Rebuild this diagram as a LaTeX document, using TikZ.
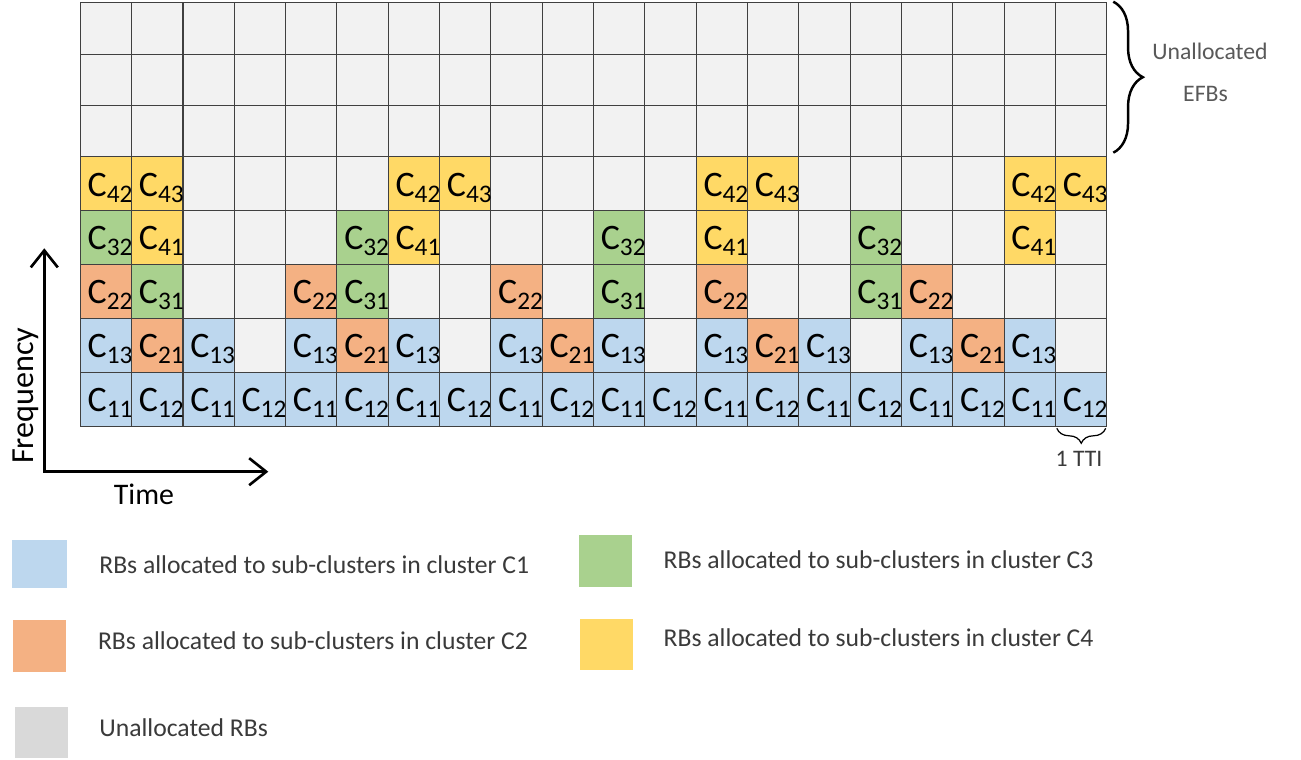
\documentclass[tikz,border=0pt]{standalone}
\usepackage{fontspec}
\setmainfont{Carlito}
\usepackage{xcolor}
\usetikzlibrary{arrows.meta, decorations.pathreplacing, calc}

\definecolor{rbblue}{HTML}{BDD7EE}
\definecolor{rborange}{HTML}{F4B183}
\definecolor{rbgreen}{HTML}{A9D18E}
\definecolor{rbyellow}{HTML}{FFD966}
\definecolor{rbfree}{HTML}{F2F2F2}
\definecolor{rbgray}{HTML}{D9D9D9}
\definecolor{gridline}{HTML}{404040}
\definecolor{notegray}{HTML}{595959}
\definecolor{legtextc}{HTML}{3A3A3A}

% sub-cluster label C_ij
\newcommand{\cid}[1]{C\raisebox{-3.4pt}{\fontsize{14.4}{14.4}\selectfont #1}}
% one allocated RB with its label
\newcommand{\rbcell}[4]{%
  \node[rb, fill=#3] (al-#1-#2) at (rb-#1-#2.center) {};
  \node[lbl] (lb-#1-#2) at ([shift={(7,14.5)}]al-#1-#2.south west) {\cid{#4}};}

\begin{document}
\begin{tikzpicture}[x=0.02cm, y=0.02cm,
    rb/.style={draw=gridline, line width=0.5pt, fill=rbfree, minimum width=1.0264cm, minimum height=1.0772cm, inner sep=0pt, outer sep=0pt},
    rbtop/.style={rb, minimum height=1.0266cm},
    lbl/.style={anchor=base west, inner sep=0pt, font=\fontsize{20.4}{20.4}\selectfont},
    axis/.style={line width=1.5pt, {Straight Barb[length=0.34cm, width=0.54cm]}-{Straight Barb[length=0.34cm, width=0.54cm]}},
    note/.style={anchor=base, inner sep=0pt, text=notegray, font=\fontsize{13.5}{13.5}\selectfont},
    legbox/.style={minimum width=1.05cm, minimum height=1.04cm, inner sep=0pt},
    legtext/.style={anchor=base west, inner sep=0pt, text=legtextc, font=\fontsize{14.6}{14.6}\selectfont},
    curly/.style={decorate, decoration={brace, amplitude=#1}}
]
\useasboundingbox (0,0) rectangle (1301,760);

% resource grid
\foreach \c in {0,...,19}{
  \foreach \r in {0,...,4}
    \node[rb] (rb-\c-\r) at ({80.3+51.32*(\c+0.5)}, {334+53.86*(\r+0.5)}) {};
  \foreach \r in {5,6,7}
    \node[rbtop] (rb-\c-\r) at ({80.3+51.32*(\c+0.5)}, {603.3+51.33*(\r-4.5)}) {};
}

% cluster C1 in the two lowest rows, C2 between
\foreach \c in {0,2,...,18}{
  \pgfmathtruncatemacro{\d}{\c+1}
  \rbcell{\c}{0}{rbblue}{11}
  \rbcell{\d}{0}{rbblue}{12}
}
\foreach \c in {0,4,...,16}{
  \pgfmathtruncatemacro{\d}{\c+1}
  \pgfmathtruncatemacro{\e}{\c+2}
  \rbcell{\c}{1}{rbblue}{13}
  \rbcell{\d}{1}{rborange}{21}
  \rbcell{\e}{1}{rbblue}{13}
}
% clusters C2, C3, C4
\foreach \c/\r/\col/\n in {0/2/rborange/22, 1/2/rbgreen/31, 4/2/rborange/22, 5/2/rbgreen/31,
    8/2/rborange/22, 10/2/rbgreen/31, 12/2/rborange/22, 15/2/rbgreen/31, 16/2/rborange/22,
    0/3/rbgreen/32, 1/3/rbyellow/41, 5/3/rbgreen/32, 6/3/rbyellow/41, 10/3/rbgreen/32,
    12/3/rbyellow/41, 15/3/rbgreen/32, 18/3/rbyellow/41,
    0/4/rbyellow/42, 1/4/rbyellow/43, 6/4/rbyellow/42, 7/4/rbyellow/43,
    12/4/rbyellow/42, 13/4/rbyellow/43, 18/4/rbyellow/42, 19/4/rbyellow/43}{
  \rbcell{\c}{\r}{\col}{\n}
}

% axes
\coordinate (orig) at (44.3,288.3);
\coordinate (ftop) at (44.3,511.7);
\coordinate (tend) at (268.3,288.3);
\draw[axis] (ftop) -- (orig) -- (tend);
\node[rotate=90, anchor=base west, inner sep=0pt, font=\fontsize{18.3}{18.3}\selectfont] (freq) at (33.3,295.7) {Frequency};
\node[anchor=base, inner sep=0pt, font=\fontsize{17}{17}\selectfont] (time) at (144,255) {Time};

% braces
\draw[curly=0.59cm, line width=1.4pt] ([shift={(6.6,1)}]rb-19-7.north east) -- ([shift={(6.6,4)}]rb-19-5.south east);
\node[note] (unal) at (1210,700) {Unallocated};
\node[note] (efbs) at (1205.5,658.3) {EFBs};
\draw[curly=0.3cm, line width=0.7pt] ([shift={(-1,-2.3)}]rb-19-0.south east) -- ([shift={(1.4,-2.3)}]rb-19-0.south west);
\node[note, text=legtextc] (tti) at (1079,293.3) {1 TTI};

% legend
\node[legbox, fill=rbblue, minimum width=1.09cm, minimum height=0.97cm] (lg1) at (39.5,195.8) {};
\node[legtext] (lt1) at (99,186.7) {RBs allocated to sub-clusters in cluster C1};
\node[legbox, fill=rborange] (lg2) at (39.5,114.1) {};
\node[legtext] (lt2) at (97.7,110) {RBs allocated to sub-clusters in cluster C2};
\node[legbox, fill=rbgray] (lg0) at (41.7,27.5) {};
\node[legtext] (lt0) at (99,23.3) {Unallocated RBs};
\node[legbox, fill=rbgreen] (lg3) at (605.3,198.8) {};
\node[legtext] (lt3) at (663.3,191) {RBs allocated to sub-clusters in cluster C3};
\node[legbox, fill=rbyellow] (lg4) at (606.7,115.5) {};
\node[legtext] (lt4) at (663.3,113.3) {RBs allocated to sub-clusters in cluster C4};

\end{tikzpicture}
\end{document}
